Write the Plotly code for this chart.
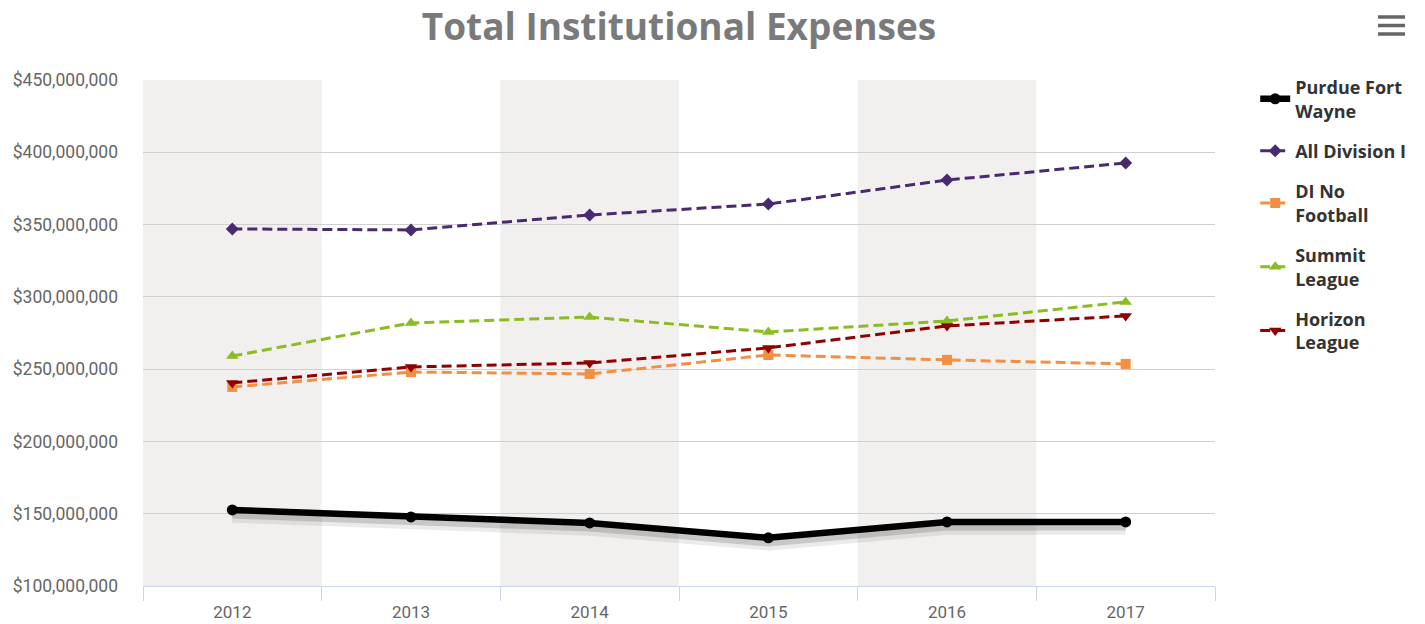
import plotly.graph_objects as go

years = ["2012", "2013", "2014", "2015", "2016", "2017"]
purdue = [152.6e6, 147.8e6, 143.6e6, 133.3e6, 144.3e6, 144.3e6]
all_d1 = [347.0e6, 346.3e6, 356.6e6, 364.2e6, 380.8e6, 392.6e6]
di_no_fb = [237.7e6, 248.0e6, 246.7e6, 259.8e6, 256.4e6, 253.6e6]
summit = [259.1e6, 281.9e6, 286.0e6, 275.7e6, 283.3e6, 296.5e6]
horizon = [240.5e6, 251.5e6, 254.3e6, 264.7e6, 279.9e6, 286.8e6]
y_ticks = [100e6, 150e6, 200e6, 250e6, 300e6, 350e6, 400e6, 450e6]
y_tick_text = ["${:,.0f}".format(v) for v in y_ticks]

W, H = 1425, 624          # body margin removed via post_script
PL, PT, PW, PH = 143, 80, 1072, 506

fig = go.Figure()

# shadow under Purdue line
fig.add_trace(go.Scatter(
    x=years, y=[v - 4.0e6 for v in purdue], mode="lines",
    line=dict(color="rgba(0,0,0,0.08)", width=14), hoverinfo="skip",
    showlegend=False))
fig.add_trace(go.Scatter(
    x=years, y=[v - 3.2e6 for v in purdue], mode="lines",
    line=dict(color="rgba(0,0,0,0.15)", width=8), hoverinfo="skip",
    showlegend=False))

series = [
    ("Purdue Fort<br>Wayne", purdue, "#000000", "circle", "solid", 6.5, 11),
    ("All Division I", all_d1, "#492970", "diamond", "10px,5px", 3, 10),
    ("DI No<br>Football", di_no_fb, "#f28f43", "square", "10px,5px", 3, 10),
    ("Summit<br>League", summit, "#8bbc21", "triangle-up", "10px,5px", 3, 11),
    ("Horizon<br>League", horizon, "#910000", "triangle-down", "10px,5px", 3, 11),
]
for i, (name, vals, col, sym, dash, w, ms) in enumerate(series):
    label = "<br>".join("<b>%s</b>" % part for part in name.split("<br>"))
    fig.add_trace(go.Scatter(
        x=years, y=vals, name=label, mode="lines+markers",
        legendgroup="g%d" % i,
        line=dict(color=col, width=w, dash=dash),
        marker=dict(symbol=sym, size=ms, color=col)))

shapes = []
for i in range(0, len(years), 2):
    shapes.append(dict(type="rect", xref="x", yref="paper",
                       x0=i - 0.5, x1=i + 0.5, y0=0, y1=1,
                       fillcolor="#f1f0ef", line=dict(width=0), layer="below"))
# hamburger menu icon
for yy in [0.0, 8.5, 17.0]:
    yp = 1 + (63 - yy) / PH
    shapes.append(dict(type="line", xref="paper", yref="paper",
                       x0=(1378 - 143) / PW, x1=(1405 - 143) / PW,
                       y0=yp, y1=yp,
                       line=dict(color="#666666", width=3.5)))

fig.update_layout(
    width=W, height=H,
    margin=dict(l=PL, r=W - PL - PW, t=PT, b=H - PT - PH, autoexpand=False),
    paper_bgcolor="white", plot_bgcolor="white",
    title=dict(text="<b>Total Institutional Expenses</b>", x=679 / W, xanchor="center",
               y=1 - 27 / H, yanchor="middle",
               font=dict(family="Open Sans", size=37, color="#7a7a7a")),
    shapes=shapes,
    showlegend=True,
    legend=dict(x=1.0375, xanchor="left", y=1.022, yanchor="top",
                traceorder="grouped", tracegroupgap=14, itemwidth=30,
                font=dict(family="Open Sans", size=18, color="#333333"),
                bgcolor="rgba(0,0,0,0)"),
    xaxis=dict(type="category", range=[-0.5, 5.5], showgrid=False, automargin=False,
               showline=True, linecolor="#ccd6eb", linewidth=1,
               ticks="outside", tickson="boundaries", ticklen=14, tickcolor="#ccd6eb",
               ticklabelstandoff=11,
               tickfont=dict(family="Roboto", size=17, color="#666666"),
               fixedrange=True),
    yaxis=dict(range=[100e6, 450e6], tickvals=y_ticks, ticktext=y_tick_text,
               automargin=False,
               showgrid=True, gridcolor="#d0d0d0", gridwidth=1, zeroline=False,
               showline=False, ticklabelstandoff=24,
               tickfont=dict(family="Roboto", size=17.5, color="#666666")),
)

fig.write_html("out.html", config={"displayModeBar": False},
               post_script="document.body.style.margin='0';document.body.style.overflow='hidden';")
